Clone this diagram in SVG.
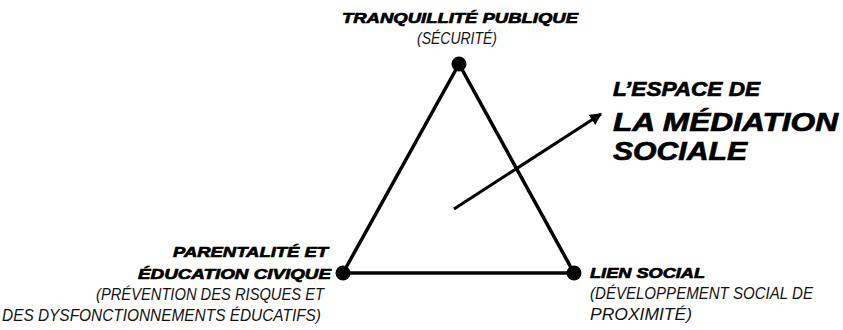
<svg xmlns="http://www.w3.org/2000/svg" width="843" height="330" viewBox="0 0 843 330">
<style>
.t{font-family:"Liberation Sans",Arial,sans-serif;font-weight:bold;font-style:italic;fill:#000;stroke:#000;stroke-width:0.7;paint-order:stroke}
.s{font-family:"Liberation Sans",Arial,sans-serif;font-style:italic;fill:#111;font-size:16px}
.e{stroke:#000;stroke-width:3.5;fill:none;stroke-linecap:round}
.d{fill:#000}
</style>
<defs>
<marker id="ah" viewBox="0 0 10 10" refX="9" refY="5" markerWidth="4" markerHeight="4" orient="auto" markerUnits="strokeWidth">
<path d="M0,0 L10,5 L0,10 z" fill="#000"/>
</marker>
</defs>
<rect width="843" height="330" fill="#fff"/>
<g id="connectors">
<line class="e" x1="459" y1="64" x2="343" y2="273"/>
<line class="e" x1="459" y1="64" x2="574" y2="273"/>
<line class="e" x1="343" y1="273" x2="574" y2="273"/>
<line x1="454" y1="209" x2="601" y2="114" stroke="#000" stroke-width="3" marker-end="url(#ah)"/>
</g>
<g id="node-top">
<circle class="d" cx="459" cy="64" r="7.5"/>
<text class="t" x="460" y="23" text-anchor="middle" font-size="15" textLength="236" lengthAdjust="spacingAndGlyphs">TRANQUILLITÉ PUBLIQUE</text>
<text class="s" x="457" y="44" text-anchor="middle" textLength="80" lengthAdjust="spacingAndGlyphs">(SÉCURITÉ)</text>
</g>
<g id="node-left">
<circle class="d" cx="343" cy="273" r="7.5"/>
<text class="t" x="328" y="257" text-anchor="end" font-size="15" textLength="155" lengthAdjust="spacingAndGlyphs">PARENTALITÉ ET</text>
<text class="t" x="331" y="279" text-anchor="end" font-size="15" textLength="193" lengthAdjust="spacingAndGlyphs">ÉDUCATION CIVIQUE</text>
<text class="s" x="324" y="300" text-anchor="end" textLength="228" lengthAdjust="spacingAndGlyphs">(PRÉVENTION DES RISQUES ET</text>
<text class="s" x="321" y="321" text-anchor="end" textLength="319" lengthAdjust="spacingAndGlyphs">DES DYSFONCTIONNEMENTS ÉDUCATIFS)</text>
</g>
<g id="node-right">
<circle class="d" cx="574" cy="273" r="7.5"/>
<text class="t" x="590" y="278" font-size="15" textLength="115" lengthAdjust="spacingAndGlyphs">LIEN SOCIAL</text>
<text class="s" x="590" y="299" textLength="223" lengthAdjust="spacingAndGlyphs">(DÉVELOPPEMENT SOCIAL DE</text>
<text class="s" x="590" y="320" textLength="102" lengthAdjust="spacingAndGlyphs">PROXIMITÉ)</text>
</g>
<g id="label-center">
<text class="t" x="613" y="96" font-size="20" textLength="147" lengthAdjust="spacingAndGlyphs">L’ESPACE DE</text>
<text class="t" x="613" y="131" font-size="26" stroke-width="1.2" textLength="225" lengthAdjust="spacingAndGlyphs">LA MÉDIATION</text>
<text class="t" x="613" y="160" font-size="26" stroke-width="1.2" textLength="134" lengthAdjust="spacingAndGlyphs">SOCIALE</text>
</g>
</svg>
